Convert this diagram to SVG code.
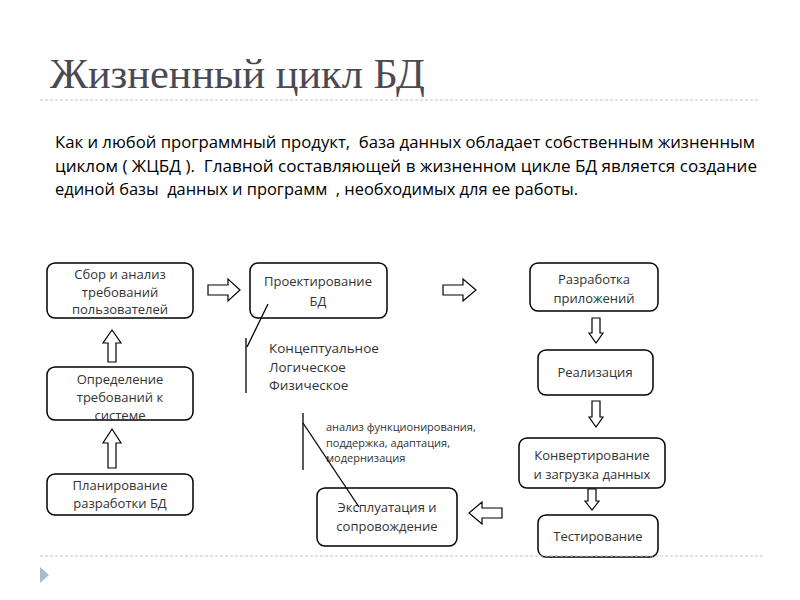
<svg xmlns="http://www.w3.org/2000/svg" width="800" height="600" viewBox="0 0 800 600">
<style>
.box{fill:#fff;stroke:#000;stroke-width:1.5}
.arr{fill:#fff;stroke:#000;stroke-width:1.2}
.t{font-family:"Open Sans","Noto Sans",sans-serif;font-size:13px;fill:#333;text-anchor:middle}
.body{font-family:"Open Sans","Noto Sans",sans-serif;font-size:16px;fill:#000;white-space:pre}
.lab{font-family:"Open Sans","Noto Sans",sans-serif;font-size:13.5px;fill:#333}
.small{font-family:"Open Sans","Noto Sans",sans-serif;font-size:11px;fill:#333}
.dot{stroke:#bcc6d2;stroke-width:1.2;stroke-dasharray:3 2;fill:none}
.ln{stroke:#000;stroke-width:1.3;fill:none}
</style>
<rect width="800" height="600" fill="#fff"/>
<text x="50" y="88" font-family="Liberation Serif,serif" font-size="42" fill="#4a4a52" textLength="375" lengthAdjust="spacingAndGlyphs">Жизненный цикл БД</text>
<line class="dot" x1="40" y1="100" x2="760" y2="100"/>
<text class="body" xml:space="preserve" x="55" y="148" textLength="700" lengthAdjust="spacingAndGlyphs">Как и любой программный продукт,  база данных обладает собственным жизненным</text>
<text class="body" xml:space="preserve" x="55" y="172" textLength="702" lengthAdjust="spacingAndGlyphs">циклом ( ЖЦБД ).  Главной составляющей в жизненном цикле БД является создание</text>
<text class="body" xml:space="preserve" x="55" y="195" textLength="523" lengthAdjust="spacingAndGlyphs">единой базы  данных и программ  , необходимых для ее работы.</text>

<g id="n-sbor"><rect class="box" x="47" y="263" width="146" height="55" rx="8"/>
<text class="t" x="120" y="279">Сбор и анализ</text><text class="t" x="120" y="297">требований</text><text class="t" x="120" y="314">пользователей</text></g>
<g id="n-opred"><rect class="box" x="47" y="367" width="146" height="53" rx="8"/>
<text class="t" x="120" y="384">Определение</text><text class="t" x="120" y="402">требований к</text><text class="t" x="120" y="420">системе</text></g>
<g id="n-plan"><rect class="box" x="47" y="474" width="146" height="41" rx="8"/>
<text class="t" x="120" y="490">Планирование</text><text class="t" x="120" y="508">разработки БД</text></g>
<g id="n-proekt"><rect class="box" x="250" y="263" width="137" height="55" rx="8"/>
<text class="t" x="318" y="286">Проектирование</text><text class="t" x="318" y="306">БД</text></g>
<g id="n-razrab"><rect class="box" x="530" y="263" width="128" height="48" rx="8"/>
<text class="t" x="594" y="284">Разработка</text><text class="t" x="594" y="303">приложений</text></g>
<g id="n-real"><rect class="box" x="538" y="350" width="115" height="45" rx="8"/>
<text class="t" x="595" y="377">Реализация</text></g>
<g id="n-konv"><rect class="box" x="519" y="438" width="146" height="50" rx="8"/>
<text class="t" x="592" y="460">Конвертирование</text><text class="t" x="592" y="479">и загрузка данных</text></g>
<g id="n-test"><rect class="box" x="538" y="515" width="120" height="42" rx="8"/>
<text class="t" x="598" y="541">Тестирование</text></g>
<g id="n-expl"><rect class="box" x="317" y="488" width="140" height="58" rx="8"/>
<text class="t" x="387" y="512">Эксплуатация и</text><text class="t" x="387" y="531">сопровождение</text></g>

<g id="notes">
<text class="lab" x="269" y="353">Концептуальное</text>
<text class="lab" x="269" y="372">Логическое</text>
<text class="lab" x="269" y="390">Физическое</text>
<text class="small" x="326" y="431">анализ функционирования,</text>
<text class="small" x="326" y="447">поддержка, адаптация,</text>
<text class="small" x="326" y="462">модернизация</text>
</g>

<g id="connectors">
<polygon class="arr" points="208,285 228,285 228,279 240,290 228,301 228,295 208,295"/>
<polygon class="arr" points="443,285 463,285 463,279 476,290 463,301 463,295 443,295"/>
<polygon class="arr" points="502,508 482,508 482,502 469,513 482,524 482,518 502,518"/>
<polygon class="arr" points="108,362 108,343 103,343 112,330 121,343 116,343 116,362"/>
<polygon class="arr" points="108,468 108,443 103,443 112,429 121,443 116,443 116,468"/>
<polygon class="arr" points="592,318 600,318 600,333 603,333 596,343 589,333 592,333"/>
<polygon class="arr" points="592,401 600,401 600,417 603,417 596,427 589,417 592,417"/>
<polygon class="arr" points="588,489 596,489 596,501 599,501 592,510 585,501 588,501"/>
<line class="ln" x1="246" y1="338" x2="246" y2="393"/>
<line class="ln" x1="268" y1="304" x2="247" y2="347"/>
<line class="ln" x1="303" y1="413" x2="303" y2="470"/>
<line class="ln" x1="303" y1="423" x2="359" y2="507"/>
</g>
<line class="dot" x1="40" y1="556" x2="765" y2="556"/>
<polygon points="40,567 40,583 49,575" fill="#a9bccf"/>
</svg>
